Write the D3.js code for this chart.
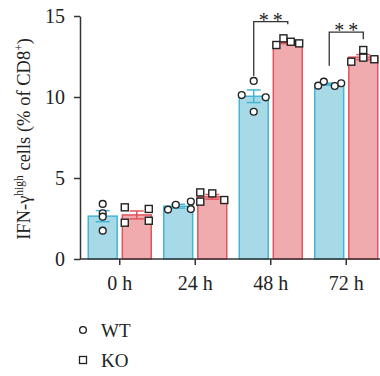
<!DOCTYPE html>
<html>
<head>
<meta charset="utf-8">
<script src="https://cdn.jsdelivr.net/npm/d3@7"></script>
<style>
  body { margin: 0; background: #fff; }
  text { font-family: "Liberation Serif", "DejaVu Serif", serif; fill: #222; }
</style>
</head>
<body>
<div id="chart"></div>
<script>
const width = 380, height = 376;

// data
const times = ["0 h", "24 h", "48 h", "72 h"];
const series = ["WT", "KO"];
const wtValues = [
  [3.40, 2.82, 2.61, 1.75],
  [3.05, 3.35, 3.55, 3.08],
  [10.99, 10.12, 9.98, 9.09],
  [10.70, 10.95, 10.68, 10.85]
];
const koValues = [
  [3.19, 3.09, 2.24, 2.36],
  [4.11, 3.54, 4.05, 3.64],
  [13.21, 13.62, 13.41, 13.31],
  [12.18, 12.90, 12.43, 12.33]
];
// horizontal spread of replicate points (-1..1 of the spread width)
const wtJitter = [
  [0, 0, 0, 0],
  [-0.85, -0.2, 1.05, 1.05],
  [0, -1, 1, 0],
  [-0.92, -0.45, 0.46, 1.0]
];
const koJitter = [
  [-1, 1, -1, 1],
  [-1, -1, 0, 1],
  [-0.95, -0.36, 0.25, 0.95],
  [-1, 0, 0, 0.92]
];
const yTicks = [0, 5, 10, 15];
// significance brackets: y levels in data units
const sigTimes = ["48 h", "72 h"];
const sigTop = [14.65, 14.0];
const sigLeft = [11.3, 11.93];
const sigRight = [14.49, 13.56];
const sigLabels = ["**", "**"];

const colors = {
  WT: { fill: "#a7d9e7", stroke: "#45b5d6" },
  KO: { fill: "#f0abae", stroke: "#e2545e" }
};

const svg = d3.select("#chart")
  .append("svg")
  .attr("width", width)
  .attr("height", height);

const x = d3.scaleBand().domain(times).range([82, 384]).padding(0);
const xSub = d3.scaleBand().domain(series).range([-31.5, 31.5]).paddingInner(0.15);
const y = d3.scaleLinear().domain([0, 15]).range([259, 16]);
const jit = d3.scaleLinear().domain([-1, 1]).range([-12, 12]);

// build rows
const rows = [];
times.forEach((t, i) => {
  [["WT", wtValues[i], wtJitter[i]], ["KO", koValues[i], koJitter[i]]].forEach(([s, vals, jj]) => {
    const mean = d3.mean(vals);
    const sem = d3.deviation(vals) / Math.sqrt(vals.length);
    rows.push({ time: t, series: s, vals, jitter: jj, mean, sem });
  });
});

const cx = d => x(d.time) + x.bandwidth() / 2 + xSub(d.series) + xSub.bandwidth() / 2;

// bars
svg.selectAll("rect.bar")
  .data(rows)
  .enter()
  .append("rect")
  .attr("class", "bar")
  .attr("x", d => x(d.time) + x.bandwidth() / 2 + xSub(d.series))
  .attr("width", xSub.bandwidth())
  .attr("y", d => y(d.mean))
  .attr("height", d => y(0) - y(d.mean))
  .attr("fill", d => colors[d.series].fill)
  .attr("stroke", d => colors[d.series].stroke)
  .attr("stroke-width", 1.5);

// error bars
const err = svg.selectAll("g.err")
  .data(rows)
  .enter()
  .append("g")
  .attr("class", "err")
  .attr("stroke", d => colors[d.series].stroke)
  .attr("stroke-width", 1.5);

err.append("line")
  .attr("x1", cx).attr("x2", cx)
  .attr("y1", d => y(d.mean - d.sem))
  .attr("y2", d => y(d.mean + d.sem));
err.append("line")
  .attr("x1", d => cx(d) - 7).attr("x2", d => cx(d) + 7)
  .attr("y1", d => y(d.mean + d.sem))
  .attr("y2", d => y(d.mean + d.sem));
err.append("line")
  .attr("x1", d => cx(d) - 7).attr("x2", d => cx(d) + 7)
  .attr("y1", d => y(d.mean - d.sem))
  .attr("y2", d => y(d.mean - d.sem));

// replicate points
const pts = [];
rows.forEach(r => r.vals.forEach((v, k) => pts.push({ series: r.series, time: r.time, v, j: r.jitter[k], r })));

svg.selectAll("circle.pt")
  .data(pts.filter(p => p.series === "WT"))
  .enter()
  .append("circle")
  .attr("class", "pt")
  .attr("cx", p => cx(p.r) + jit(p.j))
  .attr("cy", p => y(p.v))
  .attr("r", 3.4)
  .attr("fill", "#fff")
  .attr("stroke", "#222")
  .attr("stroke-width", 1.4);

svg.selectAll("rect.pt")
  .data(pts.filter(p => p.series === "KO"))
  .enter()
  .append("rect")
  .attr("class", "pt")
  .attr("x", p => cx(p.r) + jit(p.j) - 3.5)
  .attr("y", p => y(p.v) - 3.5)
  .attr("width", 7)
  .attr("height", 7)
  .attr("fill", "#fff")
  .attr("stroke", "#222")
  .attr("stroke-width", 1.4);

// axes
const yAxis = svg.append("g")
  .attr("transform", "translate(80,0)")
  .call(d3.axisLeft(y).tickValues(yTicks).tickSize(6).tickPadding(9).tickSizeOuter(0));
yAxis.select(".domain").attr("stroke", "#333").attr("stroke-width", 1.5);
yAxis.selectAll(".tick line").attr("stroke", "#333").attr("stroke-width", 1.5);
yAxis.selectAll(".tick text").attr("font-size", 20).attr("font-family", "Liberation Serif").attr("fill", "#222");

const xAxis = svg.append("g")
  .attr("transform", "translate(0,259)")
  .call(d3.axisBottom(x).tickSize(6).tickPadding(11).tickSizeOuter(0));
xAxis.select(".domain").remove();
xAxis.selectAll(".tick line").attr("stroke", "#333").attr("stroke-width", 1.5);
xAxis.selectAll(".tick text").attr("font-size", 20).attr("font-family", "Liberation Serif").attr("fill", "#222");
svg.append("line")
  .attr("x1", 80).attr("x2", 380)
  .attr("y1", 259).attr("y2", 259)
  .attr("stroke", "#333")
  .attr("stroke-width", 1.5);

// y title
const title = svg.append("text")
  .attr("transform", "translate(30,139) rotate(-90)")
  .attr("text-anchor", "middle")
  .attr("font-size", 18.5);
title.append("tspan").text("IFN-γ");
title.append("tspan").attr("font-size", 11.5).attr("dy", -7).text("high");
title.append("tspan").attr("dy", 7).text(" cells (% of CD8");
title.append("tspan").attr("font-size", 11.5).attr("dy", -7).text("+");
title.append("tspan").attr("dy", 7).text(")");

// significance brackets
const sig = sigTimes.map((t, i) => ({
  x1: x(t) + x.bandwidth() / 2 + xSub("WT") + xSub.bandwidth() / 2,
  x2: x(t) + x.bandwidth() / 2 + xSub("KO") + xSub.bandwidth() / 2,
  top: sigTop[i], left: sigLeft[i], right: sigRight[i], label: sigLabels[i]
}));

svg.selectAll("path.sig")
  .data(sig)
  .enter()
  .append("path")
  .attr("class", "sig")
  .attr("d", d => `M${d.x1},${y(d.left)}V${y(d.top)}H${d.x2}V${y(d.right)}`)
  .attr("fill", "none")
  .attr("stroke", "#333")
  .attr("stroke-width", 1.3);

svg.selectAll("text.sig")
  .data(sig)
  .enter()
  .append("text")
  .attr("class", "sig")
  .attr("x", d => (d.x1 + d.x2) / 2 + 2)
  .attr("y", d => y(d.top) + 5)
  .attr("text-anchor", "middle")
  .attr("font-size", 20)
  .attr("letter-spacing", 4)
  .attr("fill", "#444")
  .text(d => d.label);

// legend
const legend = svg.append("g").attr("transform", "translate(83,330)");
legend.append("circle").attr("cx", 0).attr("cy", 0).attr("r", 3.4)
  .attr("fill", "#fff").attr("stroke", "#222").attr("stroke-width", 1.3);
legend.append("text").attr("x", 18).attr("y", 6.5).attr("font-size", 19).text("WT");
legend.append("rect").attr("x", -3.5).attr("y", 26.5).attr("width", 7).attr("height", 7)
  .attr("fill", "#fff").attr("stroke", "#222").attr("stroke-width", 1.3);
legend.append("text").attr("x", 18).attr("y", 36.5).attr("font-size", 19).text("KO");
</script>
</body>
</html>
